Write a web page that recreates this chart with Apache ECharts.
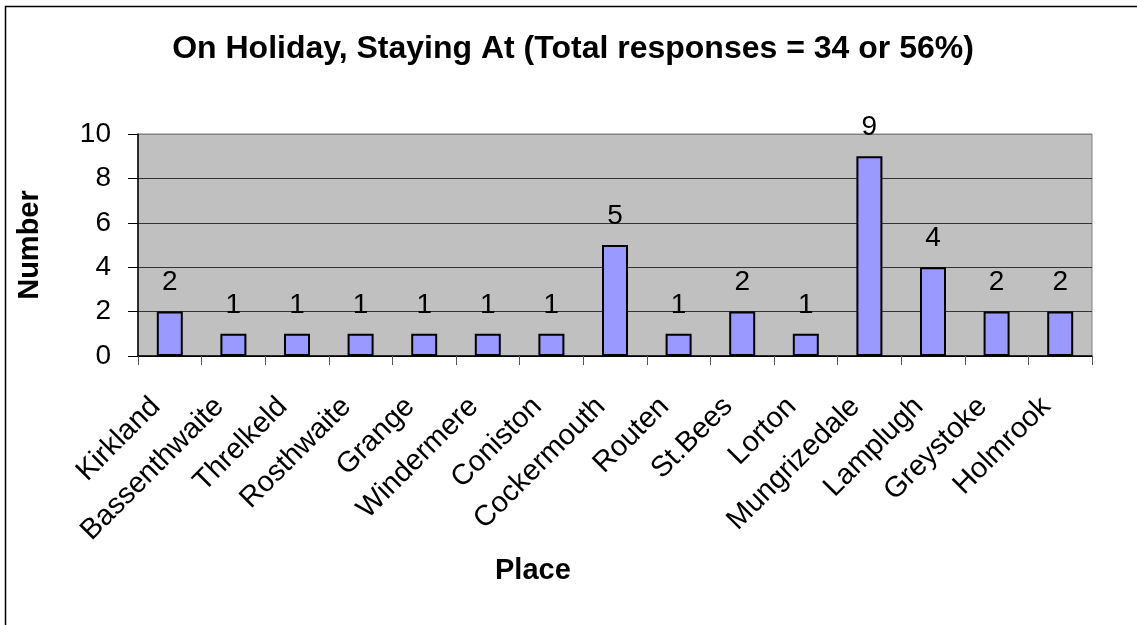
<!DOCTYPE html>
<html>
<head>
<meta charset="utf-8">
<script src="https://cdn.jsdelivr.net/npm/echarts@6/dist/echarts.min.js"></script>
<style>
  html, body { margin: 0; padding: 0; background: #fff; }
  #chart { width: 1137px; height: 625px; }
</style>
</head>
<body>
<div id="chart"></div>
<script>
// Places where respondents were staying on holiday
const places = ['Kirkland', 'Bassenthwaite', 'Threlkeld', 'Rosthwaite', 'Grange', 'Windermere',
  'Coniston', 'Cockermouth', 'Routen', 'St.Bees', 'Lorton', 'Mungrizedale', 'Lamplugh',
  'Greystoke', 'Holmrook'];
const counts = [2, 1, 1, 1, 1, 1, 1, 5, 1, 2, 1, 9, 4, 2, 2];
const yTicks = { min: 0, max: 10, interval: 2 };

const FONT = '"Liberation Sans", Arial, sans-serif';
const chart = echarts.init(document.getElementById('chart'), null, { renderer: 'canvas' });

chart.setOption({
  backgroundColor: '#ffffff',
  animation: false,
  title: {
    text: 'On Holiday, Staying At (Total responses = 34 or 56%)',
    left: 568, top: 28, textAlign: 'center',
    textStyle: { fontFamily: FONT, fontSize: 32, fontWeight: 'bold', color: '#000' }
  },
  graphic: [
    // chart frame
    { type: 'rect', shape: { x: 5.5, y: 6.5, width: 1200, height: 700 },
      style: { fill: null, stroke: '#000', lineWidth: 1.5 }, silent: true, z: 0 },
    { type: 'text', left: 495, top: 556,
      style: { text: 'Place', fontFamily: FONT, fontSize: 29, fontWeight: 'bold', fill: '#000' } }
  ],
  grid: {
    left: 138, right: 45, top: 134, bottom: 269,
    show: true, backgroundColor: '#C0C0C0', borderColor: '#808080', borderWidth: 1
  },
  xAxis: {
    type: 'category',
    data: places,
    axisLine: { lineStyle: { color: '#000', width: 1.5 } },
    axisTick: { show: true, length: 9, lineStyle: { color: '#555' } },
    axisLabel: {
      rotate: 45, interval: 0, margin: 32, padding: [0, 20, 0, 0],
      fontFamily: FONT, fontSize: 29, color: '#000'
    },
    splitLine: { show: false }
  },
  yAxis: {
    type: 'value',
    min: yTicks.min, max: yTicks.max, interval: yTicks.interval,
    name: 'Number', nameLocation: 'middle', nameGap: 94, nameRotate: 90,
    nameTextStyle: { fontFamily: FONT, fontSize: 29, fontWeight: 'bold', color: '#000' },
    axisLine: { show: true, lineStyle: { color: '#000', width: 1.5 } },
    axisTick: { show: true, length: 10, lineStyle: { color: '#000' } },
    axisLabel: { margin: 27, fontFamily: FONT, fontSize: 28, color: '#000' },
    splitLine: { show: true, lineStyle: { color: ['#000', '#333', '#333', '#333', '#333', '#808080'], width: 1 } }
  },
  series: [{
    type: 'bar',
    data: counts,
    barWidth: 26,
    itemStyle: { color: '#9999FF', borderColor: '#000', borderWidth: 2 },
    label: {
      show: true, position: 'top', distance: 15,
      fontFamily: FONT, fontSize: 28, color: '#000'
    }
  }]
});
</script>
</body>
</html>
